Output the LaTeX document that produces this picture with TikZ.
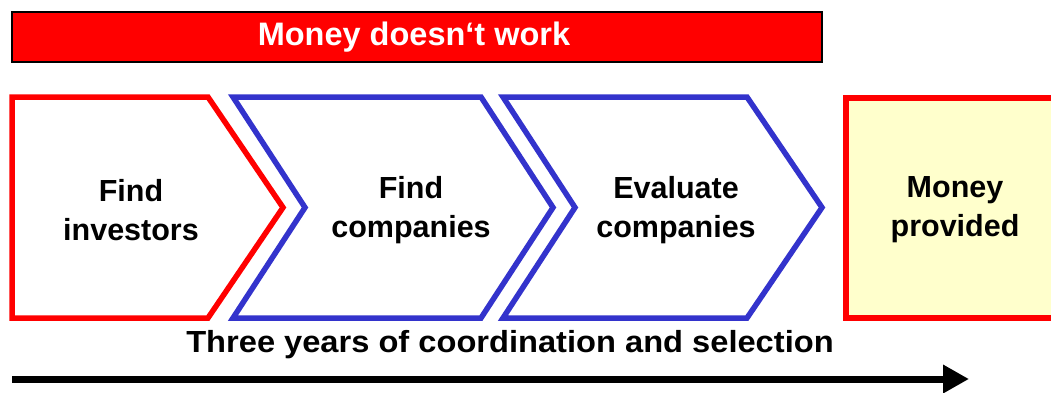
\documentclass[tikz,border=0pt]{standalone}
\usepackage{fontspec}
\setmainfont{Liberation Sans}
\usetikzlibrary{arrows.meta}
\definecolor{stepred}{HTML}{FF0000}
\definecolor{stepblue}{HTML}{3333CC}
\definecolor{paleyellow}{HTML}{FFFFCC}
\begin{document}
\begin{tikzpicture}[x=1pt,y=-1pt,
  chevline/.style={line width=5.5pt, line join=miter},
  steptext/.style={align=center, font=\fontsize{30.5}{39}\selectfont\bfseries, inner sep=0pt},
  banner/.style={draw=black, line width=1.5pt, fill=stepred},
  timeline/.style={line width=7pt, -{Triangle[length=26pt,width=27pt]}}
]
\useasboundingbox (0,0) rectangle (1051,392);

% heading bar
\node[banner, minimum width=810pt, minimum height=50pt, inner sep=0pt,
      text=white, font=\fontsize{32.5}{38}\selectfont\bfseries]
  (head) at (417,37) {\hspace*{-6pt}Money doesn‘t work};

% process chevrons
\draw[chevline, draw=stepred, fill=white]
  (12,97) -- (208,97) -- (283,207.5) -- (208,318) -- (12,318) -- cycle;
\draw[chevline, draw=stepblue, fill=white]
  (233,97) -- (481,97) -- (553,207.5) -- (481,318) -- (233,318) -- (305,207.5) -- cycle;
\draw[chevline, draw=stepblue, fill=white]
  (503,97) -- (747,97) -- (822,207.5) -- (747,318) -- (503,318) -- (575,207.5) -- cycle;

% result box, running off the right edge
\draw[chevline, draw=stepred, fill=paleyellow]
  (846,98) rectangle (1060,318);

\node[steptext] (s1) at (131,210) {Find\\investors};
\node[steptext] (s2) at (411,210) {Find\\companies};
\node[steptext] (s3) at (676,210) {Evaluate\\companies};
\node[steptext] (s4) at (955,210) {Money\\provided};

% time axis
\node[inner sep=0pt, font=\fontsize{30.5}{36}\selectfont\bfseries]
  (span) at (510,345) {\scalebox{1.07}[1]{Three years of coordination and selection}};
\coordinate (t0) at (12,379);
\coordinate (t1) at (969,379);
\draw[timeline] (t0) -- (t1);
\end{tikzpicture}
\end{document}
